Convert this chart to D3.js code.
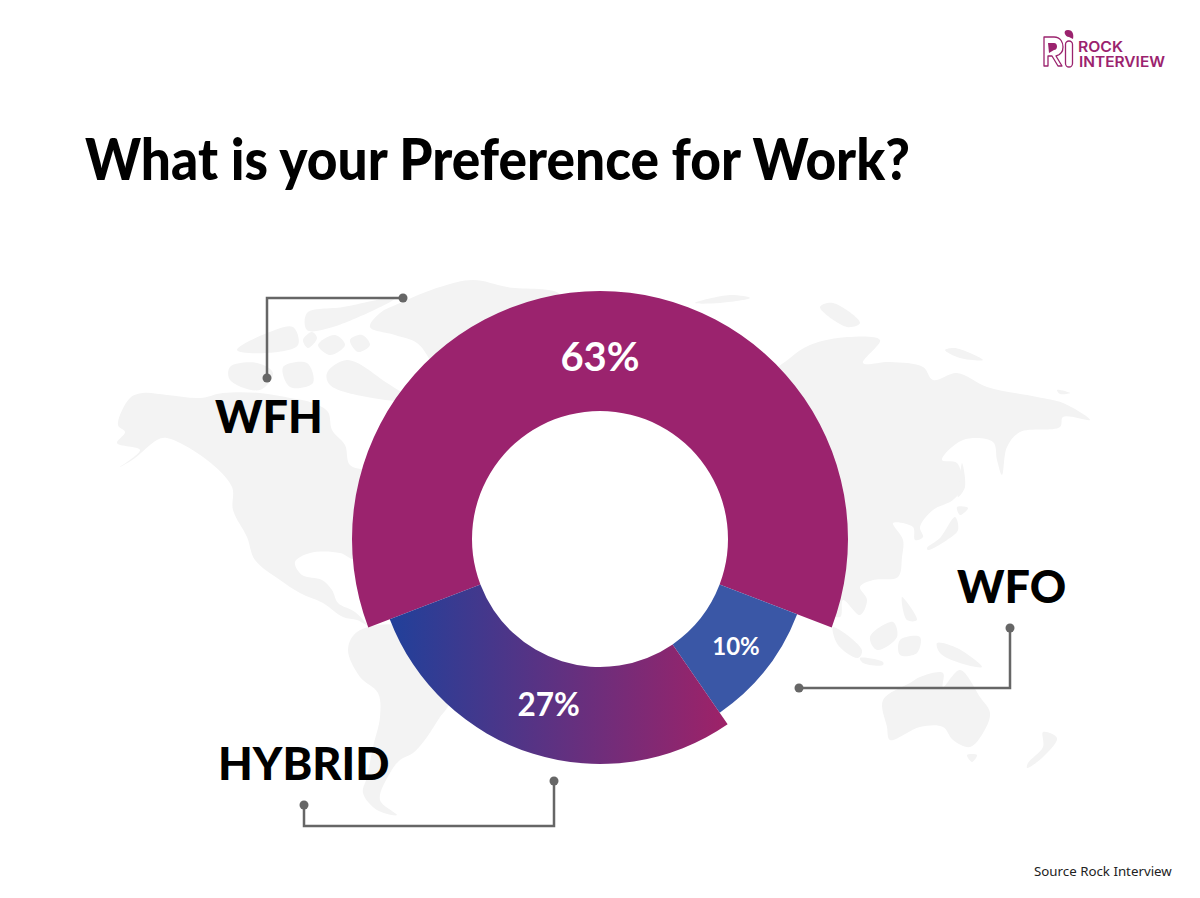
<!DOCTYPE html>
<meta charset="utf-8">
<html>
  <head>
    <style>
      body { margin: 0; background: #fff; }
      svg { display: block; }
      text { font-family: Lato, "Open Sans", sans-serif; }
      .title { font-size: 57px; font-weight: 900; fill: #000; }
      .category { font-size: 45px; font-weight: 900; fill: #000; }
      .share { font-weight: 700; fill: #fff; text-anchor: middle; }
      .source { font-family: "Noto Sans", sans-serif; font-size: 13.3px; fill: #222; }
      .logoText { font-family: Inter, sans-serif; font-weight: 600; fill: #9b236e; }
    </style>
  </head>
<body>
<div id="chart"></div>
<script src="https://d3js.org/d3.v7.min.js"></script>
<script>
    // chart values
    var categories = ["WFH", "WFO", "HYBRID"];
    var shareLabels = [63, 10, 27];
    // the printed slices are not quite proportional to their labels, these are the shares as drawn
    var drawnShares = [61.6, 9.6, 28.8];

    var width = 1200, height = 898;
    var cx = 600, cy = 539, innerRadius = 128;

    // one per slice: ring size and font of the percent label
    var outerRadii = [248, 211, 225];
    var labelRadii = [182, 173, 173];
    var labelSizes = [40, 24, 31.5];

    // category names and their elbow leaders, in page pixels
    var labelPos = [[215, 433], [957, 603], [218, 780]];
    var leaders = [
      [[403, 298], [267, 298], [267, 378]],
      [[1010, 628], [1010, 688], [799, 688]],
      [[554, 781], [554, 826], [304, 826], [304, 805]]
    ];

    // backdrop world map
    var mapShapes = [
      // north and central america
      [[118,425],[130,398],[143,393],[167,395],[200,398],[223,393],[260,393],[290,398],[313,403],[328,412],[332,430],[345,445],[350,465],[372,470],[420,470],[400,560],[355,560],[340,553],[310,553],[295,562],[302,575],[322,580],[332,590],[338,603],[355,612],[367,625],[357,620],[343,617],[323,603],[300,593],[280,580],[255,560],[247,537],[233,510],[232,487],[207,460],[167,438],[157,440],[135,458],[120,467],[140,450],[117,443],[125,432]],
      // south america
      [[357,632],[348,650],[360,677],[378,693],[380,717],[373,747],[367,777],[363,793],[377,810],[397,815],[380,800],[390,773],[400,760],[413,753],[427,737],[440,717],[447,708],[470,660],[400,625]],
      // greenland
      [[370,327],[380,313],[400,303],[440,287],[473,280],[507,287],[560,295],[520,340],[440,380],[430,360],[417,343],[395,335]],
      // arctic canada
      [[307,313],[343,307],[397,297],[333,327],[307,330]],
      [[327,373],[347,360],[387,383],[410,400],[367,397],[330,385]],
      [[230,367],[257,363],[273,373],[260,390],[230,380]],
      [[237,350],[267,333],[293,327],[298,345],[267,353]],
      [[283,367],[307,363],[313,383],[290,387]],
      [[318,345],[335,335],[345,345],[330,355]],
      [[350,340],[362,335],[370,345],[358,352]],
      [[303,340],[312,332],[317,338],[308,348]],
      // eurasia
      [[770,380],[790,358],[810,345],[847,337],[880,340],[863,363],[890,362],[923,367],[933,380],[957,373],[987,387],[1037,397],[1063,403],[1090,420],[1063,417],[1060,427],[1020,432],[1007,447],[1002,475],[997,460],[993,442],[963,440],[942,460],[957,463],[962,487],[953,500],[933,510],[920,527],[923,537],[915,540],[913,527],[893,523],[903,540],[902,557],[898,577],[873,580],[860,587],[867,600],[860,615],[843,600],[840,617],[800,590]],
      // arctic russia and svalbard
      [[820,307],[833,303],[860,323],[847,327]],
      [[945,350],[955,348],[983,360],[960,358]],
      [[1057,390],[1070,393],[1060,394]],
      [[695,303],[730,295],[750,298],[720,303]],
      // japan and sakhalin
      [[927,548],[940,538],[955,517],[958,530],[947,540],[928,550]],
      [[957,507],[968,508],[960,515]],
      [[962,463],[965,487],[958,497],[960,477]],
      // south east asia
      [[833,627],[862,650],[858,658],[838,645]],
      [[860,658],[883,662],[883,665],[863,663]],
      [[870,637],[893,622],[897,637],[877,650]],
      [[900,640],[920,637],[917,653],[900,655]],
      [[902,597],[917,620],[907,620]],
      [[937,643],[957,648],[982,667],[960,663],[940,653]],
      // australia and new zealand
      [[883,700],[910,683],[920,677],[943,673],[943,687],[960,670],[980,697],[990,713],[983,733],[970,747],[953,740],[943,727],[920,727],[890,740],[887,727]],
      [[967,755],[977,755],[972,762]],
      [[1043,732],[1057,738],[1043,757],[1027,768],[1028,763],[1043,747]]
    ];

    var svg = d3.select("#chart")
      .append("svg")
        .attr("width", width)
        .attr("height", height);

    // left to right gradient of the hybrid slice, in the donut's own coordinates
    var grad = svg.append("defs").append("linearGradient")
      .attr("id", "hybridFill")
      .attr("gradientUnits", "userSpaceOnUse")
      .attr("x1", 390 - cx).attr("x2", 727 - cx).attr("y1", 0).attr("y2", 0);
    grad.append("stop").attr("offset", "0%").attr("stop-color", "#21409a");
    grad.append("stop").attr("offset", "100%").attr("stop-color", "#9e2268");

    var fills = ["#9b236e", "#3a57a6", "url(#hybridFill)"];

    // map
    var mapLine = d3.line().curve(d3.curveCatmullRomClosed.alpha(0.5));
    svg.append("g").selectAll("path")
      .data(mapShapes)
      .enter()
      .append("path")
        .attr("d", mapLine)
        .attr("fill", "#f3f3f3");

    // donut, turned so the biggest slice sits symmetric over the top
    var rows = d3.range(categories.length).map(function(i) {
      return {name: categories[i], label: shareLabels[i], drawn: drawnShares[i], i: i};
    });
    var start = -drawnShares[0] / 100 * Math.PI;
    var pie = d3.pie()
      .sort(null)
      .value(function(d) { return d.drawn; })
      .startAngle(start)
      .endAngle(start + 2 * Math.PI);
    var arcs = pie(rows);

    var arc = d3.arc()
      .innerRadius(innerRadius)
      .outerRadius(function(d) { return outerRadii[d.data.i]; });

    var donut = svg.append("g")
      .attr("transform", "translate(" + cx + "," + cy + ")");

    donut.append("circle")
      .attr("r", innerRadius)
      .attr("fill", "#fff");

    donut.selectAll("path")
      .data(arcs)
      .enter()
      .append("path")
        .attr("d", arc)
        .attr("fill", function(d) { return fills[d.data.i]; });

    donut.selectAll("text")
      .data(arcs)
      .enter()
      .append("text")
        .attr("class", "share")
        .attr("transform", function(d) {
          var r = labelRadii[d.data.i];
          return "translate(" + d3.arc().innerRadius(r).outerRadius(r).centroid(d) + ")";
        })
        .attr("dy", "0.36em")
        .style("font-size", function(d) { return labelSizes[d.data.i] + "px"; })
        .text(function(d) { return d.data.label + "%"; });

    // leaders
    var leader = d3.line();
    leaders.forEach(function(pts) {
      svg.append("path")
        .attr("d", leader(pts))
        .attr("fill", "none")
        .attr("stroke", "#666")
        .attr("stroke-width", 2.5);
      [pts[0], pts[pts.length - 1]].forEach(function(p) {
        svg.append("circle")
          .attr("cx", p[0]).attr("cy", p[1])
          .attr("r", 4.5)
          .attr("fill", "#666");
      });
    });

    // category names
    svg.selectAll("text.category")
      .data(categories)
      .enter()
      .append("text")
        .attr("class", "category")
        .attr("x", function(d, i) { return labelPos[i][0]; })
        .attr("y", function(d, i) { return labelPos[i][1]; })
        .text(function(d) { return d; });

    svg.append("text")
      .attr("class", "title")
      .attr("x", 85).attr("y", 180)
      .attr("textLength", 825).attr("lengthAdjust", "spacingAndGlyphs")
      .text("What is your Preference for Work?");

    svg.append("text")
      .attr("class", "source")
      .attr("x", 1034).attr("y", 876)
      .text("Source Rock Interview");

    // logo
    var logo = svg.append("g");
    logo.append("path")
      .attr("d", "M1044,37 H1054 C1061,37 1063,43 1063,47 C1063,52 1060,55 1056,56 L1062,66 H1058 L1052,56 H1048 V66 H1044 Z")
      .attr("fill", "none").attr("stroke", "#9b236e").attr("stroke-width", 1.3).attr("stroke-linejoin", "round");
    logo.append("path")
      .attr("d", "M1048,43 H1054 C1058,43 1058,50 1054,50 L1049,53 Z")
      .attr("fill", "#9b236e");
    logo.append("rect")
      .attr("x", 1065.5).attr("y", 41).attr("width", 7).attr("height", 26).attr("rx", 3.5)
      .attr("fill", "none").attr("stroke", "#9b236e").attr("stroke-width", 1.3);
    logo.append("path")
      .attr("d", "M1068,30 C1073,30 1074,35 1073,39 L1069,37 C1065,37 1062,30 1068,30 Z")
      .attr("fill", "#9b236e");
    logo.append("text").attr("class", "logoText")
      .attr("x", 1078).attr("y", 52)
      .attr("textLength", 45).attr("lengthAdjust", "spacingAndGlyphs")
      .style("font-size", "14.5px").text("ROCK");
    logo.append("text").attr("class", "logoText")
      .attr("x", 1079).attr("y", 67)
      .attr("textLength", 86).attr("lengthAdjust", "spacingAndGlyphs")
      .style("font-size", "14.5px").text("INTERVIEW");
</script>
</body>
</html>
